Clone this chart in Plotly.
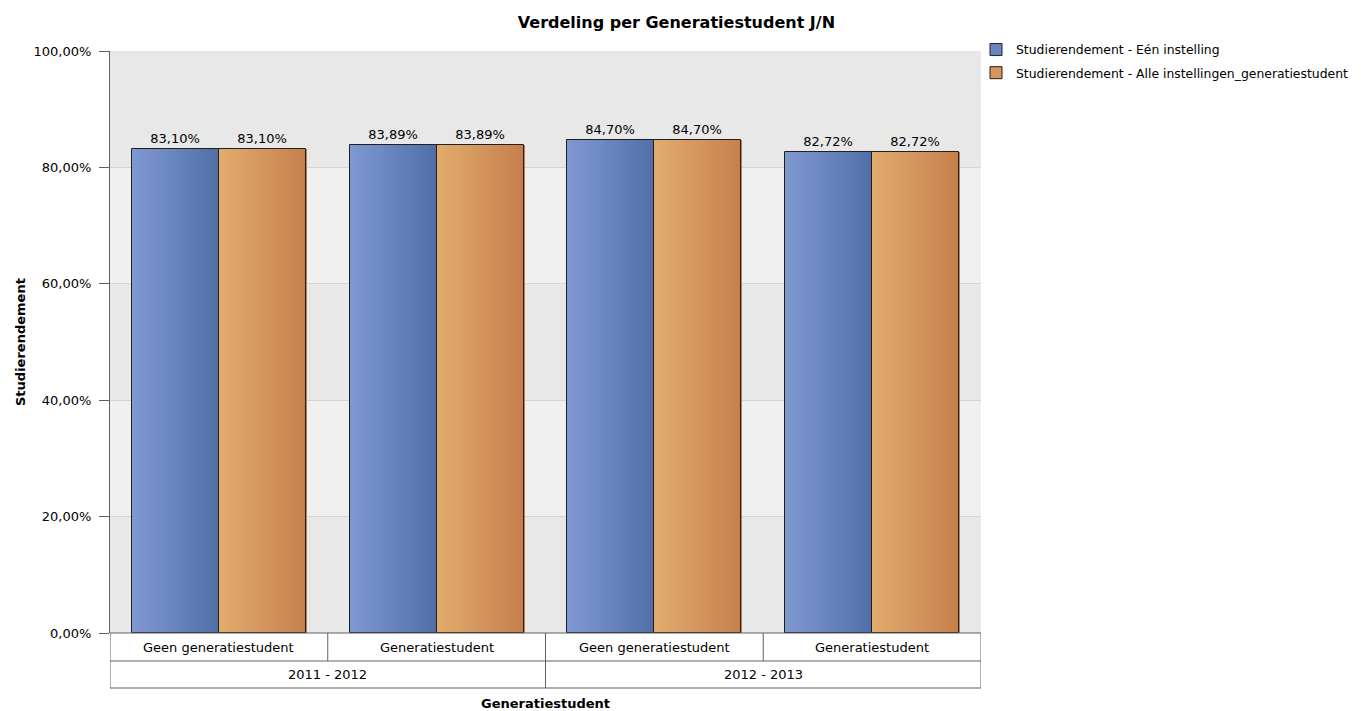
import plotly.graph_objects as go

# ---- data ----
categories = ["Geen generatiestudent", "Generatiestudent", "Geen generatiestudent", "Generatiestudent"]
years = ["2011 - 2012", "2012 - 2013"]
series_names = ["Studierendement - Eén instelling", "Studierendement - Alle instellingen_generatiestudent"]
een_instelling = [83.10, 83.89, 84.70, 82.72]
alle_instellingen = [83.10, 83.89, 84.70, 82.72]
y_tickvals = [0, 20, 40, 60, 80, 100]
y_ticktext = ["0,00%", "20,00%", "40,00%", "60,00%", "80,00%", "100,00%"]

FONT = "DejaVu Sans"
FS = 13
grad = [((128, 152, 210), (82, 112, 168)), ((226, 172, 110), (198, 128, 76))]
mid = ["#6a84bf", "#d6965e"]

def lerp(c1, c2, t):
    return "rgb(%d,%d,%d)" % tuple(round(a + (b - a) * t) for a, b in zip(c1, c2))

def fmt(v):
    return ("%.2f" % v).replace(".", ",") + "%"

fig = go.Figure()
n = len(categories)
bar_w = 0.4
N = 30
for s, vals in enumerate([een_instelling, alle_instellingen]):
    start = 0.1 + s * bar_w
    sw = bar_w / N
    for k in range(N):
        xs = [i + start + (k + 0.5) * sw for i in range(n)]
        fig.add_trace(go.Bar(x=xs, y=vals, width=sw * 1.6, showlegend=False, hoverinfo="skip",
                             marker=dict(color=lerp(grad[s][0], grad[s][1], k / (N - 1)), line=dict(width=0))))
    # outline + labels
    fig.add_trace(go.Bar(x=[i + start + bar_w / 2 for i in range(n)], y=vals, width=bar_w,
                         marker=dict(color="rgba(0,0,0,0)", line=dict(color="#202020", width=1)),
                         text=[fmt(v) for v in vals], textposition="outside",
                         textfont=dict(family=FONT, size=FS, color="#000"),
                         cliponaxis=False, showlegend=False, name=series_names[s]))
    # legend entry
    fig.add_trace(go.Bar(x=[None], y=[None], name=series_names[s], legendgroup="g%d" % s,
                         marker=dict(color=mid[s], line=dict(color="#202020", width=1))))

shapes = []
# alternating bands
for lo in [20, 60]:
    shapes.append(dict(type="rect", xref="paper", yref="y", x0=0, x1=1, y0=lo, y1=lo + 20,
                       fillcolor="#f0f0f0", line=dict(width=0), layer="below"))
# category table
ph = 582.0
r1 = -28 / ph
r2 = -55 / ph
lc = dict(color="#606060", width=1)
for xv in range(n + 1):
    shapes.append(dict(type="line", xref="x", yref="paper", x0=xv, x1=xv, y0=0, y1=r1, line=lc))
for xv in [0, 2, 4]:
    shapes.append(dict(type="line", xref="x", yref="paper", x0=xv, x1=xv, y0=r1, y1=r2, line=lc))
for yv in [0, r1, r2]:
    shapes.append(dict(type="line", xref="x", yref="paper", x0=0, x1=n, y0=yv, y1=yv, line=lc))

annotations = []
for i, c in enumerate(categories):
    annotations.append(dict(x=i + 0.5, y=r1 / 2, xref="x", yref="paper", text=c, showarrow=False,
                            xanchor="center", yanchor="middle",
                            font=dict(family=FONT, size=FS, color="#000")))
for j, yr in enumerate(years):
    annotations.append(dict(x=2 * j + 1, y=(r1 + r2) / 2, xref="x", yref="paper", text=yr, showarrow=False,
                            xanchor="center", yanchor="middle",
                            font=dict(family=FONT, size=FS, color="#000")))
annotations.append(dict(x=2, y=-70 / ph, xref="x", yref="paper", text="<b>Generatiestudent</b>", showarrow=False,
                        xanchor="center", yanchor="middle",
                        font=dict(family=FONT, size=FS, color="#000")))
annotations.append(dict(x=-90 / 871, y=0.5, xref="paper", yref="paper", text="<b>Studierendement</b>",
                        textangle=-90, showarrow=False, xanchor="center", yanchor="middle",
                        font=dict(family=FONT, size=FS, color="#000")))

fig.update_layout(
    width=1361, height=711,
    margin=dict(l=110, r=380, t=51, b=78, autoexpand=False),
    paper_bgcolor="white", plot_bgcolor="#e8e8e8",
    barmode="overlay", bargap=0,
    font=dict(family=FONT, size=FS, color="#000"),
    title=dict(text="<b>Verdeling per Generatiestudent J/N</b>", x=0.497, xanchor="center", y=0.969,
               yanchor="middle", font=dict(family=FONT, size=16, color="#000")),
    xaxis=dict(range=[0, n], showticklabels=False, showgrid=False, zeroline=False, fixedrange=True),
    yaxis=dict(range=[0, 100], tickvals=y_tickvals, ticktext=y_ticktext, ticks="outside", ticklen=10,
               tickcolor="#606060", showline=True, linecolor="#606060", gridcolor="#d4d4d4",
               zeroline=False, ticklabelstandoff=5, tickfont=dict(family=FONT, size=FS, color="#000")),
    legend=dict(x=(976 - 110) / 871, y=1.0 + 16 / 582, xanchor="left", yanchor="top", bgcolor="rgba(0,0,0,0)",
                font=dict(family=FONT, size=12.4, color="#000"), traceorder="grouped", tracegroupgap=4,
                itemwidth=30),
    shapes=shapes, annotations=annotations,
)

fig.write_html("out.html")
